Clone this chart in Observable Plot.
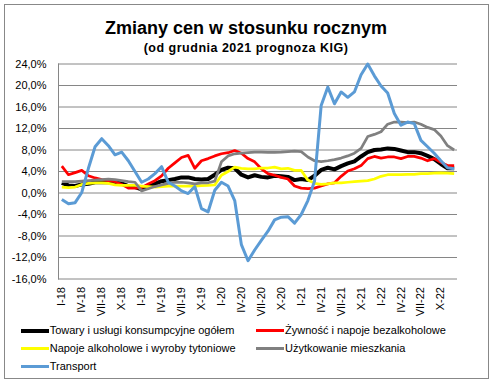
<!DOCTYPE html>
<html><head><meta charset="utf-8">
<script src="https://cdn.jsdelivr.net/npm/d3@7"></script>
<script src="https://cdn.jsdelivr.net/npm/@observablehq/plot@0.6"></script>
<style>
body{margin:0;background:#fff;font-family:"Liberation Sans",Arial,sans-serif;color:#000;}
#wrap{position:relative;width:494px;height:384px;overflow:hidden;background:#fff;}
#frame{position:absolute;left:4px;top:4px;width:483px;height:373px;border:1px solid #888;}
#title{position:absolute;left:4px;width:484px;top:18px;line-height:20px;text-align:center;font-weight:bold;font-size:18px;}
#sub{position:absolute;left:4px;width:484px;top:41px;line-height:15px;text-align:center;font-weight:bold;font-size:12.5px;letter-spacing:0.5px;}
#chart{position:absolute;left:0;top:56px;}
.leg{position:absolute;font-size:11px;line-height:14px;white-space:nowrap;}
.sw{position:absolute;width:28px;}
</style></head><body>
<div id="wrap">
<div id="frame"></div>
<div id="title">Zmiany cen w stosunku rocznym</div>
<div id="sub">(od grudnia 2021 prognoza KIG)</div>
<div id="chart"></div>
<div id="legend"></div>
</div>
<script>
const romans = ["I","II","III","IV","V","VI","VII","VIII","IX","X","XI","XII"];
const years = ["18","19","20","21","22"];
const months = years.flatMap(y => romans.map(r => r + "-" + y));
const tickMonths = months.filter((d, i) => i % 3 === 0);
const yTicks = [-16, -12, -8, -4, 0, 4, 8, 12, 16, 20, 24];

const seriesNames = [
  "Towary i usługi konsumpcyjne ogółem",
  "Żywność i napoje bezalkoholowe",
  "Napoje alkoholowe i wyroby tytoniowe",
  "Użytkowanie mieszkania",
  "Transport"
];

const cpi = [
  1.9, 1.4, 1.3, 1.6, 1.7, 2.0, 2.0, 2.0, 1.9, 1.8, 1.3, 1.1,
  0.7, 1.2, 1.7, 2.2, 2.4, 2.6, 2.9, 2.9, 2.6, 2.5, 2.6, 3.4,
  4.3, 4.7, 4.6, 3.4, 2.9, 3.3, 3.0, 2.9, 3.2, 3.1, 3.0, 2.4,
  2.6, 2.4, 3.2, 4.3, 4.7, 4.4, 5.0, 5.5, 5.9, 6.8, 7.6, 8.0,
  8.1, 8.3, 8.2, 7.9, 7.6, 7.6, 7.4, 6.9, 6.3, 5.4, 4.6, 4.6
];
const food = [
  5.0, 3.4, 3.8, 4.2, 3.2, 2.8, 2.5, 2.3, 2.1, 1.6, 0.9, 0.9,
  1.0, 1.7, 2.3, 3.2, 4.6, 5.6, 6.6, 7.0, 4.6, 6.0, 6.4, 6.9,
  7.3, 7.5, 7.9, 7.4, 6.4, 5.8, 4.5, 3.6, 3.3, 2.9, 2.6, 1.3,
  0.9, 0.8, 0.9, 1.3, 1.7, 1.9, 3.1, 4.1, 4.5, 5.1, 6.4, 6.8,
  6.5, 6.7, 6.7, 6.4, 6.8, 6.8, 6.5, 6.0, 6.4, 5.7, 5.1, 5.1
];
const alcohol = [
  1.1, 1.0, 1.1, 1.6, 1.8, 1.9, 1.9, 1.8, 1.5, 1.4, 1.4, 1.4,
  1.3, 1.2, 1.1, 1.2, 1.3, 1.3, 1.3, 1.3, 1.3, 1.35, 1.4, 1.5,
  3.3, 4.0, 4.8, 4.6, 4.5, 4.5, 4.65, 4.65, 4.8, 4.5, 4.6, 4.2,
  4.2, 2.4, 1.8, 1.6, 1.7, 1.9, 1.9, 2.0, 2.1, 2.2, 2.3, 2.6,
  3.1, 3.4, 3.4, 3.4, 3.45, 3.45, 3.6, 3.6, 3.7, 3.75, 3.7, 3.6
];
const housing = [
  2.1, 2.1, 2.1, 2.2, 2.3, 2.4, 2.5, 2.6, 2.5, 2.3, 2.1, 2.0,
  0.4, 0.8, 1.2, 1.5, 1.8, 2.0, 2.0, 1.9, 1.7, 1.9, 1.9, 2.2,
  5.8, 6.9, 7.3, 7.4, 7.5, 7.6, 7.6, 7.55, 7.55, 7.6, 7.7, 7.8,
  7.7, 6.7, 6.0, 5.85, 6.0, 6.2, 6.5, 6.9, 7.4, 8.3, 10.5, 10.9,
  11.4, 12.8, 13.2, 13.2, 13.1, 13.2, 12.8, 12.2, 11.8, 10.6, 8.8, 8.0
];
const transport = [
  -1.2, -2.0, -1.8, 0.1, 4.6, 8.6, 10.1, 8.8, 7.1, 7.6, 6.0, 4.0,
  2.0, 2.6, 3.6, 4.9, 2.0, 1.3, 0.4, -0.1, 1.2, -2.9, -3.5, 0.5,
  2.0, 1.3, -1.4, -9.6, -12.6, -10.6, -8.8, -7.1, -5.0, -4.5, -4.4, -5.6,
  -4.0, -1.4, 2.2, 16.3, 19.7, 16.6, 18.8, 17.8, 18.8, 22.0, 24.0, 21.8,
  19.9, 18.6, 14.8, 12.6, 13.2, 12.9, 9.8, 8.6, 7.4, 6.0, 4.7, 4.5
];

const colors = ["#000000", "#FF0000", "#FFFF00", "#808080", "#5B9BD5"];
const widths = [4, 2.75, 2.75, 2.75, 3];
const valueArrays = [cpi, food, alcohol, housing, transport];

const rows = valueArrays.map((vals, s) => vals.map((v, i) => ({month: months[i], value: v, series: seriesNames[s]})));

const fmt = d => d.toFixed(1).replace(".", ",") + "%";

const chart = Plot.plot({
  width: 494,
  height: 264,
  marginTop: 7.5,
  marginBottom: 41.5,
  marginLeft: 58,
  marginRight: 37,
  style: {fontFamily: "'Liberation Sans', Arial, sans-serif", fontSize: "11px", color: "#000", background: "transparent", overflow: "visible"},
  x: {type: "point", domain: months, padding: 0.5},
  y: {domain: [-16, 24]},
  marks: [
    Plot.ruleY(yTicks, {stroke: "#868686", strokeWidth: 1}),
    Plot.frame({anchor: "left", stroke: "#868686", strokeWidth: 1}),
    Plot.axisY({ticks: yTicks, tickSize: 0, tickPadding: 12, tickFormat: fmt, label: null, fill: "#000"}),
    Plot.axisX({ticks: tickMonths, tickSize: 0, tickPadding: 8, tickRotate: -90, label: null, fill: "#000"}),
    ...rows.map((r, s) => Plot.lineY(r, {x: "month", y: "value", stroke: colors[s], strokeWidth: widths[s], strokeLinejoin: "round", strokeLinecap: "butt"}))
  ]
});
document.getElementById("chart").appendChild(chart);

const legendPos = [
  {left: 20.7, top: 330.7},
  {left: 256, top: 330.7},
  {left: 20.7, top: 348.7},
  {left: 256, top: 348.7},
  {left: 20.7, top: 366.7}
];
const leg = document.getElementById("legend");
seriesNames.forEach((name, s) => {
  const p = legendPos[s];
  const sw = document.createElement("div");
  sw.className = "sw";
  const h = s === 0 ? 4 : 3;
  sw.style.left = p.left + "px";
  sw.style.top = (p.top - h / 2) + "px";
  sw.style.height = h + "px";
  sw.style.background = colors[s];
  leg.appendChild(sw);
  const t = document.createElement("div");
  t.className = "leg";
  t.style.left = (p.left + 29) + "px";
  t.style.top = (p.top - 7.5) + "px";
  t.textContent = name;
  leg.appendChild(t);
});
</script>
</body></html>
